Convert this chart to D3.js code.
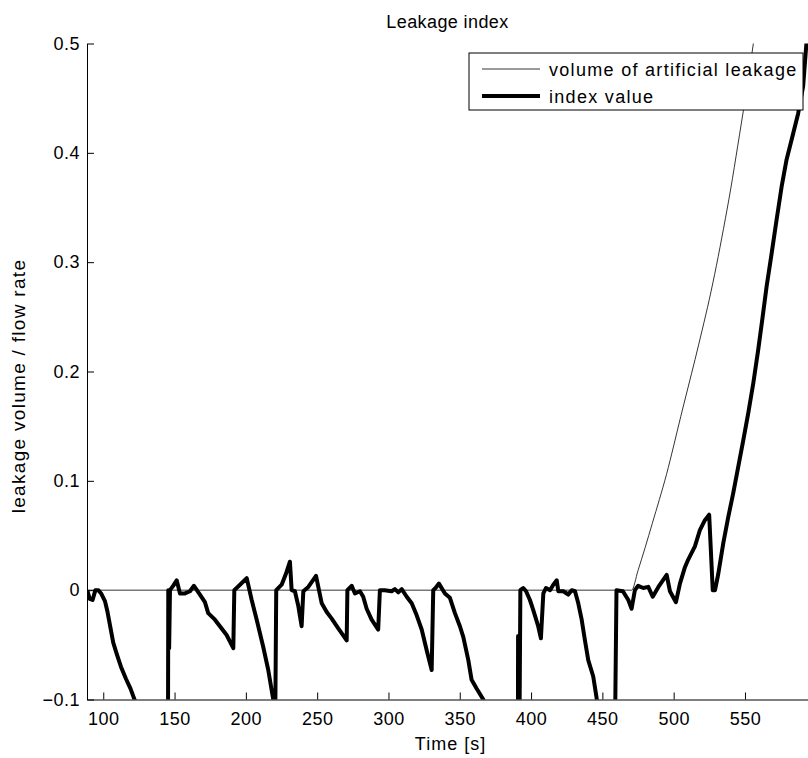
<!DOCTYPE html>
<html>
<head>
<meta charset="utf-8">
<script src="https://cdn.jsdelivr.net/npm/d3@7"></script>
<style>
  body { margin: 0; background: #fff; }
  text { font-family: "Liberation Sans", Arial, sans-serif; }
</style>
</head>
<body>
<div id="chart"></div>
<script>
// ---- data ----
const chartTitle = "Leakage index";
const xLabel = "Time [s]";
const yLabel = "leakage volume / flow rate";
const seriesNames = ["volume of artificial leakage", "index value"];

const xTicks = [100, 150, 200, 250, 300, 350, 400, 450, 500, 550];
const yTicks = [-0.1, 0, 0.1, 0.2, 0.3, 0.4, 0.5];

// volume of artificial leakage
const leakTime  = [88.8, 470.5, 475, 480, 485, 490, 495, 500, 505, 510, 515, 520, 525, 530, 535, 540, 545, 550, 555, 560];
const leakValue = [0, 0, 0.018, 0.039, 0.061, 0.083, 0.106, 0.132, 0.159, 0.185, 0.211, 0.238, 0.266, 0.297, 0.331, 0.367, 0.407, 0.448, 0.492, 0.538];

// index value
const indexTime = [
  88.8, 90.5, 92.5, 94.5, 96.5, 98.5, 101.2, 103.0, 104.7, 107.0, 109.6, 112.4, 115.9, 119.1, 121.9, 130, 140, 145.3,
  145.6, 146.2, 146.8, 149.0, 151.5, 153.8, 157.3, 160.8, 163.6, 167.8, 171.3, 173.6, 178.3, 181.8, 186.5, 191.2,
  191.9, 195.9, 200.6, 204.1, 207.6, 212.2, 215.7, 219.2, 220.6,
  221.3, 225.1, 228.1, 230.9, 232.1, 234.4, 236.7, 239.1, 240.3, 243.8, 249.2, 250.8, 253.2, 256.7, 260.2, 264.8, 270.7,
  271.2, 274.2, 276.5, 280.0, 282.3, 284.7, 288.2, 292.8,
  294.0, 297.3, 302.2, 304.5, 306.9, 309.3, 312.8, 316.3, 319.8, 323.3, 326.8, 330.3,
  331.4, 333.0, 335.4, 339.6, 343.1, 346.6, 350.1, 352.5, 356.0, 358.3, 361.8, 366.5, 375, 385, 390.7,
  390.9, 391.5, 392.5, 394.5, 396.5, 399.2, 401.5, 405.0, 406.9,
  408.6, 410.5, 413.3, 415.6, 418.0, 419.1, 422.6, 426.1, 428.5, 430.8, 433.1, 435.5, 437.8, 440.1, 443.6, 446.0, 452, 458.6,
  459.9, 464.4, 468.2, 470.5, 472.8, 475.1, 478.7, 482.2, 485.3, 489.3, 495.1, 497.4, 501.6, 504.4, 507.9, 510.2,
  514.9, 518.4, 521.9, 524.9, 527.4, 529.0, 531.3, 534.8, 538.3, 541.8, 545.3, 548.8, 552.3, 555.8, 559.3,
  562.4, 565.2, 568.7, 572.2, 575.7, 579.2, 582.7, 587.3, 590.8, 593.2
];
const indexValue = [
  0, -0.008, -0.009, 0, 0, -0.003, -0.010, -0.020, -0.032, -0.048, -0.059, -0.070, -0.081, -0.090, -0.100, -0.130, -0.165, -0.190,
  0, -0.053, 0, 0.004, 0.009, -0.003, -0.003, -0.001, 0.004, -0.004, -0.011, -0.021, -0.027, -0.033, -0.041, -0.053,
  0, 0.005, 0.011, -0.009, -0.027, -0.052, -0.073, -0.100, -0.120,
  0, 0.005, 0.015, 0.026, 0, -0.001, -0.014, -0.033, -0.001, 0.003, 0.013, 0.003, -0.012, -0.020, -0.026, -0.035, -0.046,
  0, 0.004, -0.003, -0.001, -0.006, -0.017, -0.027, -0.036,
  0, 0, -0.001, 0.001, -0.002, 0.001, -0.006, -0.012, -0.023, -0.036, -0.055, -0.073,
  0, 0.002, 0.006, -0.003, -0.007, -0.021, -0.033, -0.043, -0.064, -0.082, -0.090, -0.100, -0.130, -0.170, -0.190,
  -0.042, -0.200, 0, 0.002, -0.001, -0.009, -0.018, -0.033, -0.044,
  -0.003, 0.002, 0, 0.005, 0.009, -0.001, -0.001, -0.004, 0, -0.001, -0.012, -0.027, -0.046, -0.064, -0.079, -0.099, -0.130, -0.160,
  0, -0.001, -0.009, -0.017, 0, 0.004, 0.002, 0.003, -0.006, 0.003, 0.014, -0.001, -0.011, 0.006, 0.021, 0.028,
  0.040, 0.055, 0.064, 0.069, 0, 0, 0.015, 0.043, 0.067, 0.089, 0.113, 0.137, 0.162, 0.189, 0.220,
  0.250, 0.278, 0.308, 0.339, 0.369, 0.394, 0.412, 0.436, 0.461, 0.502
];

// ---- chart ----
const width = 808, height = 758;
const plotLeft = 87, plotRight = 808, plotTop = 43.5, plotBottom = 699.5;

const svg = d3.select("#chart").append("svg")
  .attr("width", width)
  .attr("height", height);

const x = d3.scaleLinear().domain([88.6, 594.2]).range([plotLeft, plotRight]);
const y = d3.scaleLinear().domain([-0.1, 0.5]).range([plotBottom, plotTop]);

svg.append("clipPath").attr("id", "plotclip")
  .append("rect")
  .attr("x", plotLeft).attr("y", plotTop)
  .attr("width", plotRight - plotLeft).attr("height", plotBottom - plotTop);

const line = d3.line().x(d => x(d[0])).y(d => y(d[1]));
const smoothLine = d3.line().x(d => x(d[0])).y(d => y(d[1])).curve(d3.curveMonotoneX);

const plot = svg.append("g").attr("clip-path", "url(#plotclip)");

plot.append("path")
  .datum(d3.zip(leakTime, leakValue))
  .attr("fill", "none")
  .attr("stroke", "#000")
  .attr("stroke-width", 0.8)
  .attr("d", smoothLine);

plot.append("path")
  .datum(d3.zip(indexTime, indexValue))
  .attr("fill", "none")
  .attr("stroke", "#000")
  .attr("stroke-width", 4)
  .attr("stroke-linejoin", "round")
  .attr("d", line);

// axes, ticks pointing inwards
const fmt = d => d === 0 ? "0" : d3.format(".1f")(d);

const xAxis = svg.append("g")
  .attr("transform", `translate(0,${plotBottom})`)
  .call(d3.axisBottom(x).tickValues(xTicks).tickSizeInner(-7).tickSizeOuter(0).tickPadding(13));

const yAxis = svg.append("g")
  .attr("transform", `translate(${plotLeft},0)`)
  .call(d3.axisLeft(y).tickValues(yTicks).tickFormat(fmt).tickSizeInner(-7).tickSizeOuter(0).tickPadding(7));

[xAxis, yAxis].forEach(a => {
  a.selectAll("text").attr("font-size", 18).attr("fill", "#000")
    .attr("letter-spacing", 0.5)
    .style("font-family", "'Liberation Sans', Arial, sans-serif");
  a.selectAll("line").attr("stroke", "#000");
  a.select(".domain").attr("stroke", "#000");
});

// labels
svg.append("text")
  .attr("x", (plotLeft + plotRight) / 2).attr("y", 28)
  .attr("text-anchor", "middle").attr("font-size", 18).attr("letter-spacing", 0.4)
  .text(chartTitle);

svg.append("text")
  .attr("x", (plotLeft + plotRight) / 2 + 3).attr("y", 750)
  .attr("text-anchor", "middle").attr("font-size", 18).attr("letter-spacing", 1)
  .text(xLabel);

svg.append("text")
  .attr("transform", `translate(25,386) rotate(-90)`)
  .attr("text-anchor", "middle").attr("font-size", 19).attr("letter-spacing", 1.3)
  .text(yLabel);

// legend
const legend = svg.append("g");
legend.append("rect")
  .attr("x", 469).attr("y", 53).attr("width", 334).attr("height", 57)
  .attr("fill", "#fff").attr("stroke", "#000").attr("stroke-width", 1);

const legendWidths = [0.8, 4];
seriesNames.forEach((name, i) => {
  const ly = 69 + i * 27;
  legend.append("line")
    .attr("x1", 482).attr("x2", 540).attr("y1", ly).attr("y2", ly)
    .attr("stroke", "#000").attr("stroke-width", legendWidths[i]);
  legend.append("text")
    .attr("x", 549).attr("y", ly + 6.5)
    .attr("font-size", 18).attr("letter-spacing", 1.3)
    .text(name);
});
</script>
</body>
</html>
